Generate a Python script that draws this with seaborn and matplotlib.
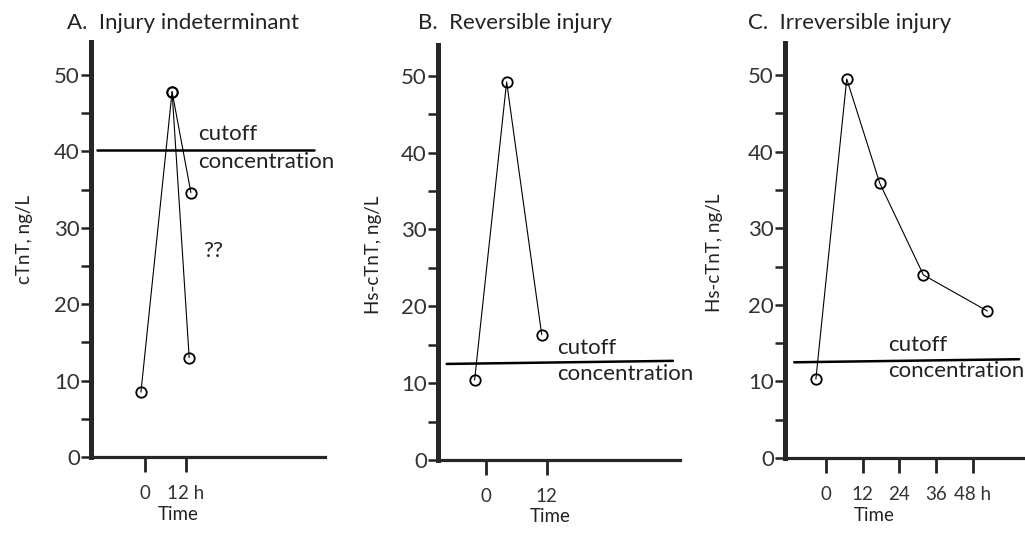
import numpy as np
import pandas as pd
import matplotlib
matplotlib.use('Agg')
import matplotlib.pyplot as plt
import seaborn as sns

sns.set_style('ticks')
plt.rcParams['font.family'] = ['Lato', 'DejaVu Sans']

# Panel A: injury indeterminant (two possible second readings)
a_rise_t = [-1.2, 7.9, 13.4]
a_rise_v = [8.5, 47.8, 34.6]
a_fall_t = [7.9, 12.9]
a_fall_v = [47.8, 13.0]
a_cut_t = [-14.0, 49.4]
a_cut_v = [40.2, 40.2]

# Panel B: reversible injury
b_t = [-2.2, 4.1, 11.0]
b_v = [10.4, 49.2, 16.3]
b_cut_t = [-7.7, 36.8]
b_cut_v = [12.5, 12.9]

# Panel C: irreversible injury
c_t = [-3.3, 6.8, 17.6, 31.9, 52.8]
c_v = [10.3, 49.5, 35.9, 23.9, 19.2]
c_cut_t = [-10.4, 63.2]
c_cut_v = [12.5, 12.9]

y_major = [0, 10, 20, 30, 40, 50]
y_minor = [5, 15, 25, 35, 45]

W, H = 1025, 548
fig = plt.figure(figsize=(W / 100, H / 100), dpi=100)


def make_ax(left, right, top, bottom, xlim, ylim):
    ax = fig.add_axes([left / W, 1 - bottom / H, (right - left) / W, (bottom - top) / H])
    ax.set_xlim(*xlim)
    ax.set_ylim(*ylim)
    sns.despine(ax=ax)
    ax.spines['left'].set_linewidth(3.6)
    ax.spines['bottom'].set_linewidth(2.3)
    ax.set_yticks(y_major)
    ax.set_yticks(y_minor, minor=True)
    ax.tick_params(axis='y', which='both', direction='out', length=7, width=1.8,
                   labelsize=16, pad=1, colors='#222222', labelcolor='#333333')
    ax.tick_params(axis='x', direction='out', length=11, width=2, labelsize=13.5,
                   pad=9, colors='#222222', labelcolor='#333333')
    ax.set_facecolor('white')
    return ax


def curve(ax, t, v):
    sns.lineplot(x=t, y=v, ax=ax, sort=False, estimator=None, color='black',
                 linewidth=0.8, marker='o', markersize=7.5, markerfacecolor='none',
                 markeredgecolor='black', markeredgewidth=1.3)


def cutoff(ax, t, v, tx, ty1, ty2):
    ax.plot(t, v, color='black', linewidth=1.8)
    ax.text(tx, ty1, 'cutoff', fontsize=16, color='#222222', va='center', ha='left')
    ax.text(tx, ty2, 'concentration', fontsize=16, color='#222222', va='center', ha='left')


# ---- A
axA = make_ax(91, 325, 42, 457, (-15.8, 52.6), (0, 54.3))
curve(axA, a_rise_t, a_rise_v)
curve(axA, a_fall_t, a_fall_v)
cutoff(axA, a_cut_t, a_cut_v, 15.5, 42.3, 38.6)
axA.text(17.0, 27.0, '??', fontsize=16, color='#222222', va='center', ha='left')
axA.set_xticks([0, 12], ['0', '12 h'])
axA.set_ylabel('cTnT, ng/L', fontsize=13.5, color='#222222')
axA.yaxis.set_label_coords(-0.248, 0.525)
axA.set_xlabel('Time', fontsize=13.5, color='#222222', va='top')
axA.xaxis.set_label_coords(0.372, -0.118)

# ---- B
axB = make_ax(438, 680, 45, 460, (-9.4, 38.2), (0, 54.0))
curve(axB, b_t, b_v)
cutoff(axB, b_cut_t, b_cut_v, 14.0, 14.6, 11.2)
axB.set_xticks([0, 12], ['0', '12'])
axB.set_ylabel('Hs-cTnT, ng/L', fontsize=13.5, color='#222222')
axB.yaxis.set_label_coords(-0.231, 0.494)
axB.set_xlabel('Time', fontsize=13.5, color='#222222', va='top')
axB.xaxis.set_label_coords(0.463, -0.115)

# ---- C
axC = make_ax(785, 1024, 43, 458, (-13.4, 64.8), (0, 54.2))
curve(axC, c_t, c_v)
cutoff(axC, c_cut_t, c_cut_v, 20.3, 14.7, 11.3)
axC.set_xticks([0, 12, 24, 36, 48], ['0', '12', '24', '36', '48 h'])
axC.set_ylabel('Hs-cTnT, ng/L', fontsize=13.5, color='#222222')
axC.yaxis.set_label_coords(-0.258, 0.494)
axC.set_xlabel('Time', fontsize=13.5, color='#222222', va='top')
axC.xaxis.set_label_coords(0.375, -0.118)

# panel titles
fig.text(67 / W, 1 - 23 / H, 'A.  Injury indeterminant', fontsize=16, color='#222222', va='center')
fig.text(418 / W, 1 - 23 / H, 'B.  Reversible injury', fontsize=16, color='#222222', va='center')
fig.text(748 / W, 1 - 23 / H, 'C.  Irreversible injury', fontsize=16, color='#222222', va='center')

fig.savefig('out.png', dpi=100, facecolor='white')
